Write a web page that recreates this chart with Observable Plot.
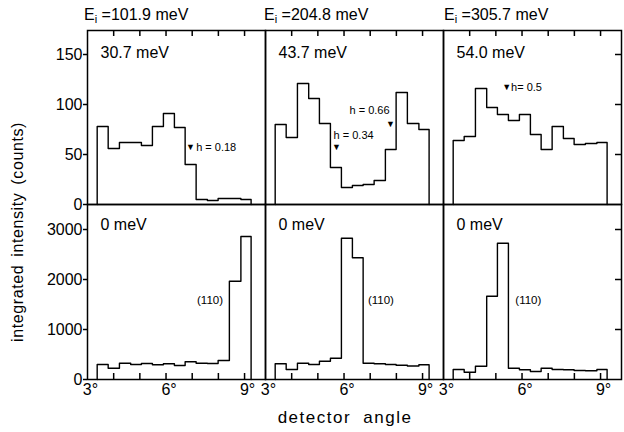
<!DOCTYPE html>
<html><head><meta charset="utf-8">
<script src="https://cdn.jsdelivr.net/npm/d3@7"></script>
<script src="https://cdn.jsdelivr.net/npm/@observablehq/plot@0.6"></script>
<style>
body{margin:0;background:#fff;}
#chart{position:relative;width:624px;height:432px;font-family:"Liberation Sans",Arial,sans-serif;color:#000;overflow:hidden;background:#fff}
.abs{position:absolute;white-space:nowrap;line-height:20px}
.title{font-size:16px}
.title sub{font-size:11px;vertical-align:-3px;line-height:0}
</style></head><body><div id="chart"></div>
<script>
// ---- data ----
const incidentEnergies = ["101.9", "204.8", "305.7"];
const inelasticEnergies = ["30.7 meV", "43.7 meV", "54.0 meV"];
const elasticEnergies = ["0 meV", "0 meV", "0 meV"];
// detector-angle bin edges (degrees)
const binEdges = [3.37, 3.79, 4.22, 4.65, 5.06, 5.48, 5.90, 6.32, 6.73, 7.15, 7.58, 7.99, 8.42, 8.86, 9.25];
const degreeTicks = [3, 4, 5, 6, 7, 8, 9];
const degreeLabels = [3, 6, 9];
const topTicks = [0, 50, 100, 150];
const bottomTicks = [0, 1000, 2000, 3000];
// inelastic (top row) counts
const inelastic101 = [78, 56, 62, 62, 59, 78, 91, 77, 40, 5, 4, 6, 6, 5];
const inelastic204 = [80, 67, 121, 106, 81, 37, 17, 19, 20, 24, 55, 112, 81, 75];
const inelastic305 = [64, 68, 116, 97, 90, 84, 90, 70, 55, 78, 66, 60, 61, 62];
// elastic (bottom row) counts
const elastic101 = [300, 226, 326, 300, 320, 294, 314, 280, 354, 326, 320, 380, 1966, 2860];
const elastic204 = [314, 200, 326, 300, 366, 426, 2826, 2434, 326, 314, 300, 286, 270, 294];
const elastic305 = [200, 146, 266, 1666, 2726, 226, 194, 160, 226, 200, 194, 180, 174, 200];
// h annotations (top row)
const hLabels = ["h = 0.18", "h = 0.34", "h = 0.66", "h= 0.5"];
const hPanels = [0, 1, 1, 2];
const hLabelAngles = [7.15, 5.60, 6.21, 5.58];
const hLabelCounts = [57, 69, 94, 117];
const hArrowAngles = [6.93, 5.71, 7.77, 5.41];
const hArrowCounts = [57, 57, 80, 117];
// (110) annotations (bottom row)
const braggLabel = "(110)";
const braggAngles = [7.68, 7.41, 6.24];
const braggCounts = [1580, 1580, 1580];

const FONT = '"Liberation Sans", Arial, sans-serif';
const chart = document.getElementById("chart");
const X_DOMAIN = [3, 9.8];
const TOP_DOMAIN = [0, 174];
const BOTTOM_DOMAIN = [0, 3500];
const TICK = 6; // px
const facetWidth = (624 - 86 - 2) / 3;
const topFrameH = 174, bottomFrameH = 175;
const xTickLen = TICK / facetWidth * (X_DOMAIN[1] - X_DOMAIN[0]);
const topTickLen = TICK / topFrameH * (TOP_DOMAIN[1] - TOP_DOMAIN[0]);
const bottomTickLen = TICK / bottomFrameH * (BOTTOM_DOMAIN[1] - BOTTOM_DOMAIN[0]);

function histogramPoints(seriesList) {
  const pts = [];
  const last = binEdges.length - 1;
  seriesList.forEach((counts, panel) => {
    pts.push({panel, angle: binEdges[0], count: 0});
    counts.forEach((c, i) => pts.push({panel, angle: binEdges[i], count: c}));
    pts.push({panel, angle: binEdges[last], count: counts[counts.length - 1]});
    pts.push({panel, angle: binEdges[last], count: 0});
  });
  return pts;
}

function common(yDomain) {
  return {
    width: 624, marginLeft: 86, marginRight: 2,
    x: {domain: X_DOMAIN, label: null, axis: null},
    y: {domain: yDomain, label: null, axis: null},
    fx: {domain: [0, 1, 2], padding: 0, axis: null, label: null},
    style: {fontFamily: FONT, color: "#000", background: "transparent", overflow: "visible"}
  };
}

const panelIdx = [0, 1, 2];

const topPlot = Plot.plot({
  ...common(TOP_DOMAIN),
  height: 208, marginTop: 30, marginBottom: 4,
  marks: [
    Plot.frame({stroke: "#000", strokeWidth: 1.5}),
    Plot.line(histogramPoints([inelastic101, inelastic204, inelastic305]),
      {x: "angle", y: "count", fx: "panel", curve: "step-after", stroke: "#000", strokeWidth: 1.4}),
    Plot.axisY(topTicks, {anchor: "left", tickSize: 4, tickPadding: 1, fontSize: 16, strokeWidth: 1.5, label: null, tickFormat: d => String(d)}),
    // inward ticks on the right edge of the last panel
    Plot.ruleY(topTicks.slice(1), {y: d => d, fx: () => 2, x1: X_DOMAIN[1] - xTickLen, x2: X_DOMAIN[1], stroke: "#000", strokeWidth: 1.5}),
    // inward ticks along the top edge
    Plot.ruleX(degreeTicks.slice(1), {x: d => d, y1: TOP_DOMAIN[1] - topTickLen, y2: TOP_DOMAIN[1], stroke: "#000", strokeWidth: 1.5}),
    Plot.text(panelIdx, {fx: d => d, text: d => inelasticEnergies[d], frameAnchor: "top-left", dx: 13, dy: 22,
      textAnchor: "start", lineAnchor: "middle", fontSize: 16}),
    Plot.text(hLabels, {fx: (d, i) => hPanels[i], x: (d, i) => hLabelAngles[i], y: (d, i) => hLabelCounts[i],
      text: d => d, textAnchor: "start", lineAnchor: "middle", fontSize: 11}),
    Plot.text(hLabels, {fx: (d, i) => hPanels[i], x: (d, i) => hArrowAngles[i], y: (d, i) => hArrowCounts[i],
      text: () => "▼", textAnchor: "middle", lineAnchor: "middle", fontSize: 9})
  ]
});

const bottomPlot = Plot.plot({
  ...common(BOTTOM_DOMAIN),
  height: 238, marginTop: 10, marginBottom: 53,
  marks: [
    Plot.frame({stroke: "#000", strokeWidth: 1.5}),
    Plot.line(histogramPoints([elastic101, elastic204, elastic305]),
      {x: "angle", y: "count", fx: "panel", curve: "step-after", stroke: "#000", strokeWidth: 1.4}),
    Plot.axisY(bottomTicks, {anchor: "left", tickSize: 4, tickPadding: 1, fontSize: 16, strokeWidth: 1.5, label: null, tickFormat: d => String(d)}),
    Plot.ruleY(bottomTicks.slice(1), {y: d => d, fx: () => 2, x1: X_DOMAIN[1] - xTickLen, x2: X_DOMAIN[1], stroke: "#000", strokeWidth: 1.5}),
    // inward ticks along the bottom edge
    Plot.ruleX(degreeTicks.slice(1), {x: d => d, y1: BOTTOM_DOMAIN[0], y2: BOTTOM_DOMAIN[0] + bottomTickLen, stroke: "#000", strokeWidth: 1.5}),
    Plot.axisX(degreeLabels, {anchor: "bottom", tickSize: 0, tickPadding: 4, tickFormat: d => `${d}°`, dx: 3, fontSize: 16, label: null}),
    Plot.text(panelIdx, {fx: d => d, text: d => elasticEnergies[d], frameAnchor: "top-left", dx: 13, dy: 20,
      textAnchor: "start", lineAnchor: "middle", fontSize: 16}),
    Plot.text(panelIdx, {fx: d => d, x: d => braggAngles[d], y: d => braggCounts[d], text: () => braggLabel,
      textAnchor: "middle", lineAnchor: "middle", fontSize: 11.5})
  ]
});

topPlot.style.position = "absolute"; topPlot.style.left = "0px"; topPlot.style.top = "0px";
bottomPlot.style.position = "absolute"; bottomPlot.style.left = "0px"; bottomPlot.style.top = "194px";
chart.appendChild(topPlot);
chart.appendChild(bottomPlot);

const titleLefts = [84, 264, 444];
incidentEnergies.forEach((e, i) => {
  const d = document.createElement("div");
  d.className = "abs title";
  d.style.left = titleLefts[i] + "px";
  d.style.top = "5px";
  d.innerHTML = `E<sub>i</sub> =${e} meV`;
  chart.appendChild(d);
});

const yl = document.createElement("div");
yl.className = "abs";
yl.style.cssText = "left:-112px;top:222px;width:260px;text-align:center;font-size:16px;transform:rotate(-90deg);letter-spacing:0.6px;word-spacing:3px";
yl.textContent = "integrated intensity (counts)";
chart.appendChild(yl);

const xl = document.createElement("div");
xl.className = "abs";
xl.style.cssText = "left:215px;top:408px;width:260px;text-align:center;font-size:17px;letter-spacing:1.5px;word-spacing:6px";
xl.textContent = "detector angle";
chart.appendChild(xl);
</script></body></html>
